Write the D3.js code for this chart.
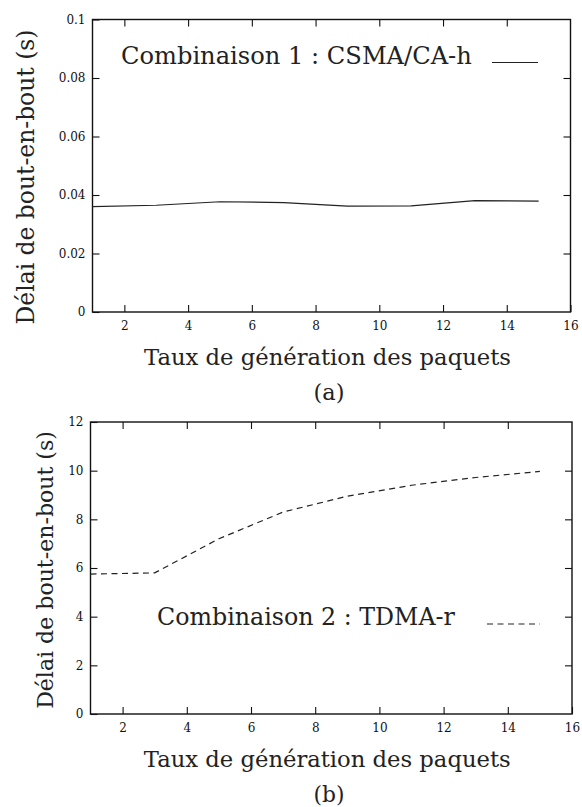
<!DOCTYPE html>
<html>
<head>
<meta charset="utf-8">
<script src="https://cdn.jsdelivr.net/npm/d3@7"></script>
<style>
  body { margin: 0; background: #fff; }
</style>
</head>
<body>
<div id="chart"></div>
<script>
// packet generation rate (x) and end-to-end delay (y) for the two combinations
var rates = [1, 3, 5, 7, 9, 11, 13, 15];
var delayCsma = [0.0360, 0.0365, 0.0377, 0.0374, 0.0362, 0.0363, 0.0381, 0.0379];
var delayTdma = [5.75, 5.80, 7.20, 8.30, 8.95, 9.40, 9.72, 9.97];

var xTicks = [2, 4, 6, 8, 10, 12, 14, 16];
var yTicksA = [0, 0.02, 0.04, 0.06, 0.08, 0.1];
var yTicksB = [0, 2, 4, 6, 8, 10, 12];

var xTitle = "Taux de génération des paquets";
var yTitle = "Délai de bout-en-bout (s)";

var FONT = "'DejaVu Serif', 'Liberation Serif', serif";
var W = 582, H = 807;

var svg = d3.select("#chart").append("svg")
  .attr("width", W)
  .attr("height", H)
  .attr("font-family", FONT);

// scale the font so the text takes the same width as in the picture
function fit(sel, target) {
  var size = +sel.attr("font-size");
  var w = sel.node().getComputedTextLength();
  if (w > 0) sel.attr("font-size", size * target / w);
  return sel;
}

function drawPanel(p) {
  var x = d3.scaleLinear().domain([1, 16]).range([p.left, p.right]);
  var y = d3.scaleLinear().domain(p.yDomain).range([p.bottom, p.top]);
  var g = svg.append("g");

  // ticks, all pointing inward
  var bx = g.append("g").attr("transform", "translate(0," + p.bottom + ")")
    .call(d3.axisBottom(x).tickValues(xTicks).tickSizeInner(-7).tickSizeOuter(0).tickPadding(9));
  var tx = g.append("g").attr("transform", "translate(0," + p.top + ")")
    .call(d3.axisTop(x).tickValues(xTicks.slice(0, -1)).tickSizeInner(-7).tickSizeOuter(0).tickFormat(""));
  var ly = g.append("g").attr("transform", "translate(" + p.left + ",0)")
    .call(d3.axisLeft(y).tickValues(p.yTicks).tickSizeInner(-7).tickSizeOuter(0).tickPadding(7)
      .tickFormat(function (d) { return String(+d.toFixed(2)) }));
  var ry = g.append("g").attr("transform", "translate(" + p.right + ",0)")
    .call(d3.axisRight(y).tickValues(p.yTicks.slice(1, -1)).tickSizeInner(-7).tickSizeOuter(0).tickFormat(""));

  [bx, tx, ly, ry].forEach(function (a) {
    a.attr("font-family", FONT).attr("font-size", 12);
    a.select(".domain").remove();
    a.selectAll("line").attr("stroke", "#111").attr("stroke-width", 1.1);
    a.selectAll("text").attr("fill", "#111");
  });

  g.append("rect")
    .attr("x", p.left).attr("y", p.top)
    .attr("width", p.right - p.left).attr("height", p.bottom - p.top)
    .attr("fill", "none").attr("stroke", "#111").attr("stroke-width", 1.4);

  var line = d3.line()
    .x(function (d, i) { return x(rates[i]) })
    .y(function (d) { return y(d) });

  g.append("path")
    .datum(p.values)
    .attr("d", line)
    .attr("fill", "none")
    .attr("stroke", "#222")
    .attr("stroke-width", 1.2)
    .attr("stroke-dasharray", p.dash);

  // legend
  fit(g.append("text")
    .attr("x", p.legX).attr("y", p.legY)
    .attr("font-size", 26).attr("fill", "#222")
    .text(p.legend), p.legW);
  g.append("line")
    .attr("x1", p.legX1).attr("x2", p.legX2)
    .attr("y1", p.legY - 1).attr("y2", p.legY - 1)
    .attr("stroke", "#222").attr("stroke-width", 1.2)
    .attr("stroke-dasharray", p.dash);

  // titles
  fit(g.append("text")
    .attr("x", (p.left + p.right) / 2 - 4).attr("y", p.bottom + 53)
    .attr("text-anchor", "middle").attr("font-size", 26).attr("fill", "#222")
    .text(xTitle), 367);
  fit(g.append("text")
    .attr("transform", "translate(" + p.yTitleX + "," + p.yTitleY + ") rotate(-90)")
    .attr("text-anchor", "middle").attr("font-size", 26).attr("fill", "#222")
    .text(yTitle), p.yTitleW);
  fit(g.append("text")
    .attr("x", 329).attr("y", p.capY)
    .attr("text-anchor", "middle").attr("font-size", 24).attr("fill", "#222")
    .text(p.caption), 31);
}

drawPanel({
  left: 92.5, right: 570.5, top: 19.5, bottom: 312,
  yDomain: [0, 0.1], yTicks: yTicksA, values: delayCsma, dash: null,
  legend: "Combinaison 1 : CSMA/CA-h", legX: 121, legY: 63.5, legW: 351, legX1: 492, legX2: 538,
  yTitleX: 34, yTitleY: 177, yTitleW: 295,
  caption: "(a)", capY: 400
});

drawPanel({
  left: 90.5, right: 572, top: 422, bottom: 714,
  yDomain: [0, 12], yTicks: yTicksB, values: delayTdma, dash: "6,4.5",
  legend: "Combinaison 2 : TDMA-r", legX: 157, legY: 625, legW: 298, legX1: 487, legX2: 540,
  yTitleX: 53, yTitleY: 570, yTitleW: 278,
  caption: "(b)", capY: 802
});
</script>
</body>
</html>
